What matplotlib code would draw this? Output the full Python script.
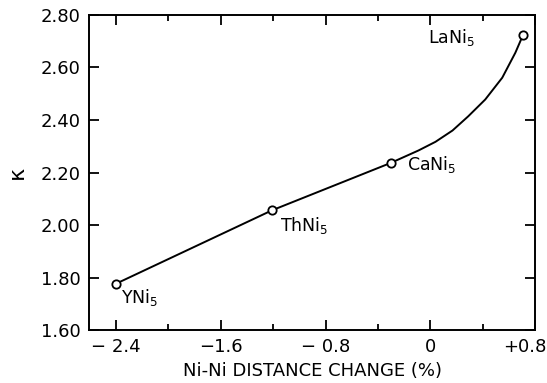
import matplotlib
matplotlib.use('Agg')
import matplotlib.pyplot as plt
import matplotlib.transforms as mtransforms

# compounds (measured points)
names = ['YNi$_5$', 'ThNi$_5$', 'CaNi$_5$', 'LaNi$_5$']
dist_change = [-2.4, -1.21, -0.30, 0.71]
kappa = [1.777, 2.056, 2.237, 2.725]

# hand-drawn curve
curve_x = [-2.4, -1.21, -0.30, -0.09, 0.04, 0.17, 0.29, 0.42, 0.55, 0.65, 0.71]
curve_y = [1.777, 2.056, 2.237, 2.284, 2.317, 2.36, 2.414, 2.478, 2.561, 2.656, 2.725]

# label anchor points
label_x = [-2.36, -1.15, -0.18, -0.015]
label_y = [1.726, 2.00, 2.229, 2.716]

xticks = [-2.4, -1.6, -0.8, 0, 0.8]
xticklabels = ['\u2212 2.4', '\u22121.6', '\u2212 0.8', '0', '+0.8']
yticks = [1.6, 1.8, 2.0, 2.2, 2.4, 2.6, 2.8]

fig = plt.figure(figsize=(5.47, 3.83), dpi=100)
ax = fig.add_axes([0.163, 0.138, 0.815, 0.823])

ax.plot(curve_x, curve_y, color='black', lw=1.4, zorder=2)
ax.plot(dist_change, kappa, 'o', ms=6, mfc='white', mec='black', mew=1.3, zorder=3)
for n, lx, ly in zip(names, label_x, label_y):
    ax.text(lx, ly, n, fontsize=12.5, ha='left', va='center')

ax.set_xlim(-2.606, 0.8)
ax.set_ylim(1.6, 2.8)
ax.set_xticks(xticks)
ax.set_xticklabels(xticklabels)
ax.set_xticks([-2.0, -1.2, -0.4, 0.4], minor=True)
ax.set_yticks(yticks)
ax.set_yticklabels(['%.2f' % v for v in yticks])
ax.tick_params(which='both', direction='in', top=True, right=True, labelsize=13, width=1.3)
ax.tick_params(which='major', length=7, pad=6)
ax.tick_params(which='minor', length=4)
for s in ax.spines.values():
    s.set_linewidth(1.4)

# last x label sits inside the figure edge
last = ax.get_xticklabels()[-1]
last.set_horizontalalignment('right')
last.set_transform(last.get_transform() + mtransforms.ScaledTranslation(8 / 72, 0, fig.dpi_scale_trans))

ax.set_xlabel('Ni-Ni DISTANCE CHANGE (%)', fontsize=13, labelpad=4)
ax.set_ylabel('\u03ba', fontsize=16, labelpad=10)

plt.savefig('out.png', dpi=100)
